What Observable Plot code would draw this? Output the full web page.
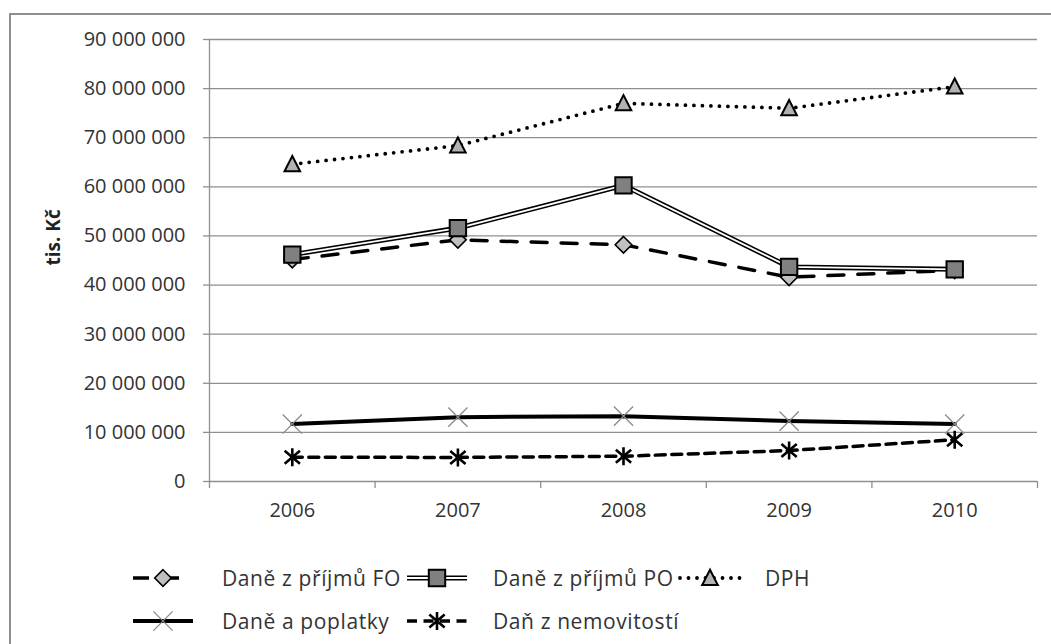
<!DOCTYPE html>
<html lang="cs">
<head>
<meta charset="utf-8">
<script src="https://cdn.jsdelivr.net/npm/d3@7"></script>
<script src="https://cdn.jsdelivr.net/npm/@observablehq/plot@0.6"></script>
<style>
  body { margin: 0; background: #fff; font-family: "Open Sans", sans-serif; color: #333; }
  #wrap { position: relative; width: 1051px; height: 644px; overflow: hidden; }
  #frame { position: absolute; left: 9px; top: 13px; width: 1200px; height: 800px; border: 2px solid #8f8f8f; box-sizing: border-box; }
  #chart { position: absolute; left: 0; top: 0; }
  #legend { position: absolute; left: 0; top: 530px; width: 1051px; height: 114px; }
</style>
</head>
<body>
<div id="wrap">
  <div id="frame"></div>
  <div id="chart"></div>
  <div id="legend"></div>
</div>
<script>
// Daňové příjmy 2006–2010 (tis. Kč)
const years = [2006, 2007, 2008, 2009, 2010];
const daneFO = [45.2e6, 49.2e6, 48.2e6, 41.6e6, 43.0e6];
const danePO = [46.2e6, 51.6e6, 60.3e6, 43.7e6, 43.2e6];
const dph = [64.6e6, 68.4e6, 77.0e6, 76.0e6, 80.4e6];
const poplatky = [11.7e6, 13.1e6, 13.3e6, 12.3e6, 11.7e6];
const nemovitosti = [4.95e6, 4.9e6, 5.15e6, 6.3e6, 8.5e6];
const yTicks = [0, 10e6, 20e6, 30e6, 40e6, 50e6, 60e6, 70e6, 80e6, 90e6];
const seriesNames = ["Daně z příjmů FO", "Daně z příjmů PO", "DPH", "Daně a poplatky", "Daň z nemovitostí"];

// category boundaries for the x-axis tick marks
const boundaries = [...years.map(y => y - 0.5), years[years.length - 1] + 0.5];

const fmt = d => d3.format(",")(d).replace(/,/g, " ");
const rows = vals => years.map((year, i) => ({year, value: vals[i]}));

// marker shapes; r = sqrt(size / π) equals the dot radius
const rad = size => Math.sqrt(size / Math.PI);
const diamond = {draw(c, s) { const r = rad(s); c.moveTo(0, -r); c.lineTo(r, 0); c.lineTo(0, r); c.lineTo(-r, 0); c.closePath(); }};
const square = {draw(c, s) { const r = rad(s); c.rect(-r, -r, 2 * r, 2 * r); }};
const triangle = {draw(c, s) { const r = rad(s); c.moveTo(0, -r); c.lineTo(0.95 * r, 0.85 * r); c.lineTo(-0.95 * r, 0.85 * r); c.closePath(); }};
const cross = {draw(c, s) { const r = rad(s); c.moveTo(-r, -r); c.lineTo(r, r); c.moveTo(-r, r); c.lineTo(r, -r); }};
const star = {draw(c, s) { const r = rad(s); c.moveTo(0, -r); c.lineTo(0, r); c.moveTo(-0.85 * r, -0.72 * r); c.lineTo(0.85 * r, 0.72 * r); c.moveTo(-0.85 * r, 0.72 * r); c.lineTo(0.85 * r, -0.72 * r); }};

const series = [
  {name: seriesNames[0], values: daneFO,
   lines: [{stroke: "#000", strokeWidth: 3.5, strokeDasharray: "16 14"}],
   dot: {symbol: diamond, r: 8.3, fill: "#c0c0c0", stroke: "#000", strokeWidth: 1.6}},
  {name: seriesNames[1], values: danePO,
   lines: [{stroke: "#000", strokeWidth: 5}, {stroke: "#fff", strokeWidth: 1.9}],
   dot: {symbol: square, r: 8.2, fill: "#808080", stroke: "#000", strokeWidth: 2}},
  {name: seriesNames[2], values: dph,
   lines: [{stroke: "#000", strokeWidth: 3.8, strokeDasharray: "0 8.5", strokeLinecap: "round"}],
   dot: {symbol: triangle, r: 8.2, fill: "#b2b2b2", stroke: "#000", strokeWidth: 2}},
  {name: seriesNames[3], values: poplatky,
   lines: [{stroke: "#000", strokeWidth: 4}],
   dot: {symbol: cross, r: 9.6, fill: "none", stroke: "#8a8a8a", strokeWidth: 1.3}},
  {name: seriesNames[4], values: nemovitosti,
   lines: [{stroke: "#000", strokeWidth: 3.5, strokeDasharray: "10 6.5"}],
   dot: {symbol: star, r: 9, fill: "none", stroke: "#000", strokeWidth: 2.6}}
];

const gray = "#8f8f8f";

const marks = [
  Plot.gridY(yTicks, {stroke: gray, strokeOpacity: 1, strokeWidth: 1.3}),
  Plot.ruleX([boundaries[0]], {stroke: gray, strokeWidth: 1.3}),
  Plot.axisY(yTicks, {label: null, tickSize: 6, tickPadding: 18, tickFormat: fmt, stroke: gray, strokeWidth: 1.3, fontSize: 20, fill: "#333"}),
  Plot.axisX(boundaries, {label: null, tickSize: 7, tickFormat: () => "", stroke: gray, strokeWidth: 1.3}),
  Plot.axisX(years, {label: null, tickSize: 0, tickPadding: 21, tickFormat: d => String(d), fontSize: 20, fill: "#333"}),
  Plot.text(["tis. Kč"], {frameAnchor: "left", dx: -156, dy: 5, rotate: -90, fontWeight: "bold", fontSize: 19, fill: "#222"})
];
for (const s of series) {
  const data = rows(s.values);
  for (const l of s.lines) marks.push(Plot.line(data, {x: "year", y: "value", ...l}));
  marks.push(Plot.dot(data, {x: "year", y: "value", ...s.dot}));
}

const chart = Plot.plot({
  width: 1051,
  height: 530,
  marginLeft: 209,
  marginRight: 14,
  marginTop: 39,
  marginBottom: 49,
  x: {type: "linear", domain: [boundaries[0], boundaries[boundaries.length - 1]], axis: null, label: null},
  y: {domain: [0, 90e6], axis: null, label: null},
  style: {fontFamily: "Open Sans", fontSize: "20px", color: "#333", background: "transparent", overflow: "visible"},
  marks
});
document.getElementById("chart").append(chart);

// legend: swatch (line style + marker) followed by the series name
const legendPos = [
  {x: 133, tx: 222, y: 48}, {x: 407, tx: 493, y: 48}, {x: 680, tx: 765, y: 48},
  {x: 133, tx: 222, y: 91}, {x: 407, tx: 493, y: 91}
];
const legend = d3.select("#legend");
series.forEach((s, i) => {
  const p = legendPos[i];
  const sw = legend.append("svg").attr("width", 60).attr("height", 30)
    .style("position", "absolute").style("left", p.x + "px").style("top", (p.y - 15) + "px")
    .style("overflow", "visible");
  for (const l of s.lines) {
    sw.append("line").attr("x1", 0).attr("x2", 60).attr("y1", 15).attr("y2", 15)
      .attr("stroke", l.stroke).attr("stroke-width", l.strokeWidth)
      .attr("stroke-dasharray", l.strokeDasharray || null)
      .attr("stroke-linecap", l.strokeLinecap || null);
  }
  const d = s.dot;
  sw.append("path").attr("transform", "translate(30,15)")
    .attr("d", d3.symbol(d.symbol, d.r * d.r * Math.PI)())
    .attr("fill", d.fill).attr("stroke", d.stroke).attr("stroke-width", d.strokeWidth);
  legend.append("span").text(s.name)
    .style("position", "absolute").style("left", p.tx + "px").style("top", (p.y - 15) + "px")
    .style("font-size", "21px").style("letter-spacing", "0.6px")
    .style("line-height", "30px").style("white-space", "nowrap");
});
</script>
</body>
</html>
